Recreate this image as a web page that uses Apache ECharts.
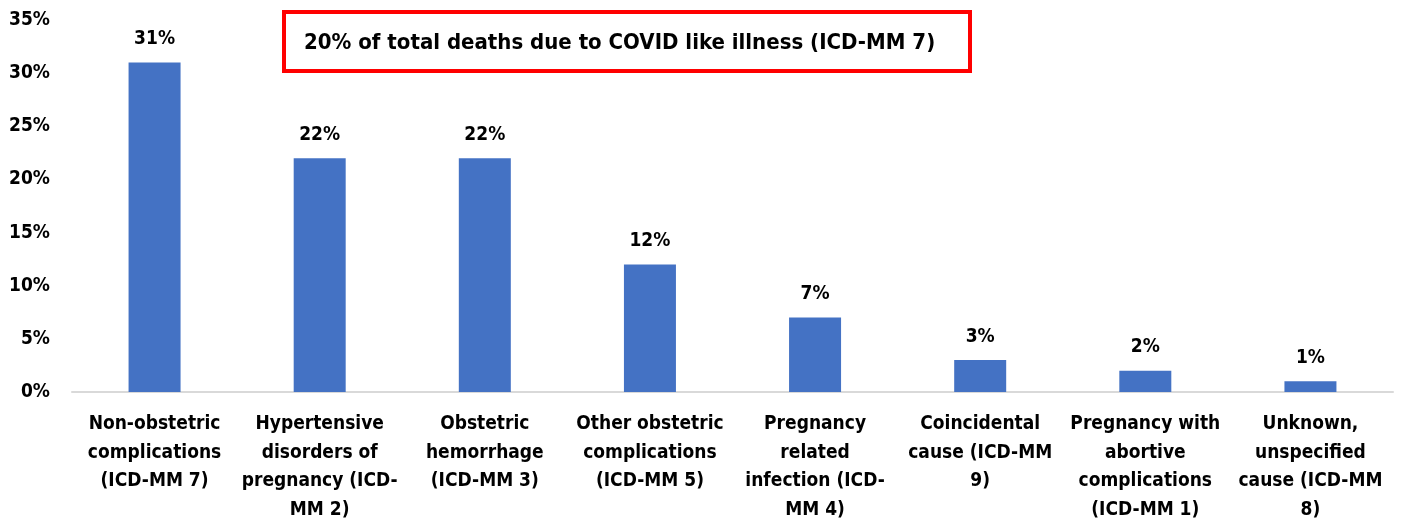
<!DOCTYPE html>
<html>
<head>
<meta charset="utf-8">
<script src="https://cdn.jsdelivr.net/npm/echarts@6/dist/echarts.min.js"></script>
<style>
  html, body { margin: 0; padding: 0; background: #fff; }
  #chart { width: 1403px; height: 524px; }
</style>
</head>
<body>
<div id="chart"></div>
<script>
// categories, already wrapped the way the original shows them
var causes = [
  'Non-obstetric\ncomplications\n(ICD-MM 7)',
  'Hypertensive\ndisorders of\npregnancy (ICD-\nMM 2)',
  'Obstetric\nhemorrhage\n(ICD-MM 3)',
  'Other obstetric\ncomplications\n(ICD-MM 5)',
  'Pregnancy\nrelated\ninfection (ICD-\nMM 4)',
  'Coincidental\ncause (ICD-MM\n9)',
  'Pregnancy with\nabortive\ncomplications\n(ICD-MM 1)',
  'Unknown,\nunspecified\ncause (ICD-MM\n8)'
];
var shares = [31, 22, 22, 12, 7, 3, 2, 1];
var yTicks = [0, 5, 10, 15, 20, 25, 30, 35];
var note = '20% of total deaths due to COVID like illness (ICD-MM 7)';

var font = '"Liberation Sans Narrow", "DejaVu Sans Condensed", "Noto Sans", sans-serif';

var chart = echarts.init(document.getElementById('chart'));
chart.setOption({
  animation: false,
  textStyle: { fontFamily: font },
  grid: { left: 72, right: 10, top: 20, bottom: 132, containLabel: false },
  xAxis: {
    type: 'category',
    data: causes,
    axisLine: { lineStyle: { color: '#d9d9d9', width: 2 } },
    axisTick: { show: false },
    axisLabel: {
      interval: 0,
      color: '#000',
      fontWeight: 'bold',
      fontSize: 19,
      lineHeight: 28.5,
      margin: 18,
      fontFamily: font
    }
  },
  yAxis: {
    type: 'value',
    min: yTicks[0],
    max: yTicks[yTicks.length - 1],
    interval: 5,
    splitLine: { show: false },
    axisLine: { show: false },
    axisTick: { show: false },
    axisLabel: {
      formatter: '{value}%',
      color: '#000',
      fontWeight: 'bold',
      fontSize: 19,
      margin: 22,
      fontFamily: font
    }
  },
  series: [{
    type: 'bar',
    data: shares,
    barWidth: 52,
    itemStyle: { color: '#4472c4' },
    label: {
      show: true,
      position: 'top',
      distance: 14,
      formatter: '{c}%',
      color: '#000',
      fontWeight: 'bold',
      fontSize: 19,
      fontFamily: font
    }
  }],
  graphic: [{
    type: 'group',
    left: 282,
    top: 10,
    children: [{
      type: 'rect',
      shape: { x: 0, y: 0, width: 686, height: 59 },
      style: { fill: '#fff', stroke: '#ff0000', lineWidth: 4 }
    }, {
      type: 'text',
      x: 20,
      y: 31,
      style: {
        text: note,
        fill: '#000',
        font: 'bold 22px ' + font,
        verticalAlign: 'middle'
      }
    }]
  }]
});
</script>
</body>
</html>
